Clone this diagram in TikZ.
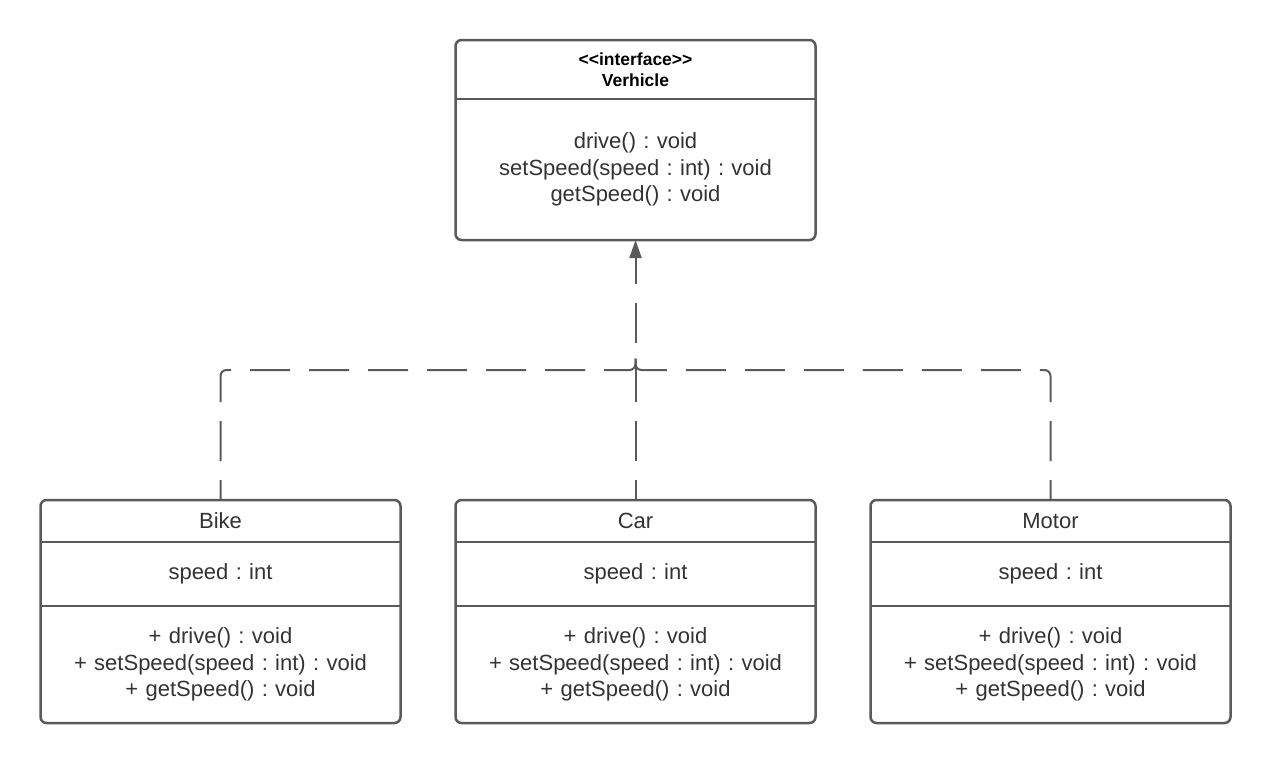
\documentclass[tikz,border=0pt]{standalone}
\usepackage{fontspec}
\setmainfont{Liberation Sans}[Ligatures=TeXOff]
\usetikzlibrary{positioning,arrows.meta}
\frenchspacing

\definecolor{linegray}{RGB}{90,90,90}
\definecolor{textgray}{RGB}{51,51,51}

\begin{document}
\begin{tikzpicture}[x=1pt,y=-1pt,>={Triangle[length=18pt,width=12pt]},
                    part/.style={draw=none,outer sep=0pt,inner sep=0pt,text width=360pt,
                                 align=center,text=textgray,font=\fontsize{22}{26.5}\selectfont},
                    head/.style={part,text=black,font=\fontsize{17.5}{21}\bfseries\selectfont},
                    frame/.style={draw=linegray,line width=2.5pt,rounded corners=6pt},
                    divider/.style={draw=linegray,line width=2.5pt},
                    realize/.style={draw=linegray,line width=2pt,rounded corners=6pt,
                                    dash pattern=on 40pt off 19pt,dash phase=20pt}]
  \useasboundingbox (0,0) rectangle (1271,764);

  % the interface
  \node[head,minimum height=59pt]  (ver-head) at (635.5,69.5) {<<interface>>\\Verhicle};
  \node[part,minimum height=141pt] (ver-ops)  [below=0pt of ver-head]
        {drive() : void\\setSpeed(speed : int) : void\\getSpeed() : void};

  % the classes
  \node[part,minimum height=42pt]  (car-head)  [below=260pt of ver-ops]  {Car};
  \node[part,minimum height=64pt]  (car-attr)  [below=0pt of car-head]   {speed : int};
  \node[part,minimum height=117pt] (car-ops)   [below=0pt of car-attr]
        {+ drive() : void\\+ setSpeed(speed : int) : void\\+ getSpeed() : void};

  \node[part,minimum height=42pt]  (bike-head) [left=55pt of car-head]   {Bike};
  \node[part,minimum height=64pt]  (bike-attr) [below=0pt of bike-head]  {speed : int};
  \node[part,minimum height=117pt] (bike-ops)  [below=0pt of bike-attr]
        {+ drive() : void\\+ setSpeed(speed : int) : void\\+ getSpeed() : void};

  \node[part,minimum height=42pt]  (motor-head) [right=55pt of car-head]  {Motor};
  \node[part,minimum height=64pt]  (motor-attr) [below=0pt of motor-head] {speed : int};
  \node[part,minimum height=117pt] (motor-ops)  [below=0pt of motor-attr]
        {+ drive() : void\\+ setSpeed(speed : int) : void\\+ getSpeed() : void};

  \draw[frame] (ver-head.north west) rectangle (ver-ops.south east);
  \draw[divider] (ver-ops.north west) -- (ver-ops.north east);
  \foreach \cls in {bike,car,motor} {
    \draw[frame] (\cls-head.north west) rectangle (\cls-ops.south east);
    \draw[divider] (\cls-attr.north west) -- (\cls-attr.north east);
    \draw[divider] (\cls-ops.north west) -- (\cls-ops.north east);
  }

  % realizations
  \coordinate[above=130pt of car-head] (jn);
  \draw[realize] (bike-head.north) |- (jn) -- ++(0,-12);
  \draw[realize] (motor-head.north) |- (jn) -- ++(0,-12);
  \draw[realize,->] (car-head.north) -- (ver-ops.south);

\end{tikzpicture}
\end{document}
